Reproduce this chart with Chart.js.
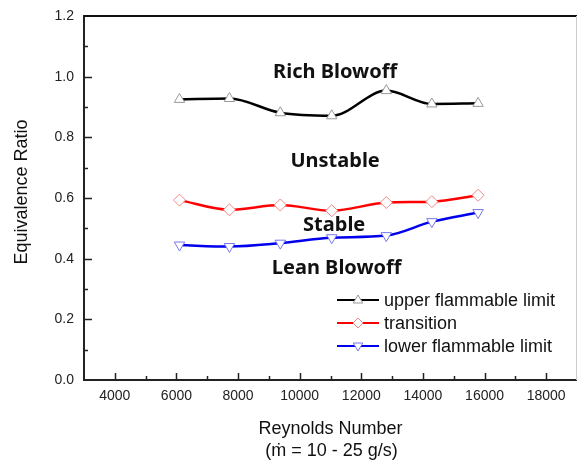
<!DOCTYPE html>
<html>
<head>
<meta charset="utf-8">
<script src="https://cdn.jsdelivr.net/npm/chart.js@4.4.0/dist/chart.umd.min.js"></script>
<style>
  html, body { margin: 0; padding: 0; background: #fff; overflow: hidden; }
  canvas { display: block; }
</style>
</head>
<body>
<canvas id="chart" width="577" height="460"></canvas>
<script>
// Reynolds number of each run
var reynolds = [6100, 7720, 9370, 11040, 12810, 14290, 15790];
// equivalence ratios
var upperLimit = [0.925, 0.928, 0.881, 0.871, 0.954, 0.910, 0.912];
var transition = [0.593, 0.561, 0.577, 0.558, 0.585, 0.588, 0.609];
var lowerLimit = [0.445, 0.440, 0.451, 0.469, 0.476, 0.522, 0.552];

var xTicks = [4000, 6000, 8000, 10000, 12000, 14000, 16000, 18000];
var yTicks = [0.0, 0.2, 0.4, 0.6, 0.8, 1.0, 1.2];

var regionNames = ['Rich Blowoff', 'Unstable', 'Stable', 'Lean Blowoff'];
var regionX = [11150, 11150, 11120, 11200];
var regionY = [1.015, 0.722, 0.511, 0.369];

function pairs(ys) {
    return reynolds.map(function(x, i) { return { x: x, y: ys[i] }; });
}

// triangle / diamond used in the legend
function marker(ctx, style, x, y, r) {
    ctx.beginPath();
    if (style === 'up') {
        ctx.moveTo(x, y - r);
        ctx.lineTo(x + r * 0.95, y + r * 0.6);
        ctx.lineTo(x - r * 0.95, y + r * 0.6);
    } else if (style === 'down') {
        ctx.moveTo(x, y + r);
        ctx.lineTo(x + r * 0.95, y - r * 0.6);
        ctx.lineTo(x - r * 0.95, y - r * 0.6);
    } else {
        ctx.moveTo(x, y - r);
        ctx.lineTo(x + r, y);
        ctx.lineTo(x, y + r);
        ctx.lineTo(x - r, y);
    }
    ctx.closePath();
    ctx.fill();
    ctx.stroke();
}

var decor = {
    id: 'decor',
    afterDraw: function(chart) {
        var ctx = chart.ctx, a = chart.chartArea;
        var xs = chart.scales.x, ys = chart.scales.y;
        ctx.save();

        // frame top / right
        ctx.strokeStyle = '#111';
        ctx.lineWidth = 2;
        ctx.beginPath();
        ctx.moveTo(a.left, a.top);
        ctx.lineTo(a.right, a.top);
        ctx.stroke();
        ctx.strokeStyle = '#ccc';
        ctx.lineWidth = 1;
        ctx.beginPath();
        ctx.moveTo(a.right - 0.5, a.top);
        ctx.lineTo(a.right - 0.5, a.bottom);
        ctx.stroke();

        // inward ticks
        ctx.strokeStyle = '#222';
        ctx.lineWidth = 1.5;
        ctx.beginPath();
        for (var v = 4000; v <= 18000; v += 1000) {
            var px = Math.round(xs.getPixelForValue(v)) + 0.5;
            var len = (v % 2000 === 0) ? 7 : 4;
            ctx.moveTo(px, a.bottom);
            ctx.lineTo(px, a.bottom - len);
        }
        for (var k = 1; k < 12; k++) {
            var py = Math.round(ys.getPixelForValue(k / 10)) + 0.5;
            var l2 = (k % 2 === 0) ? 8 : 4;
            ctx.moveTo(a.left, py);
            ctx.lineTo(a.left + l2, py);
        }
        ctx.stroke();

        // region labels
        ctx.fillStyle = '#111';
        ctx.font = 'bold 20px "Noto Sans", sans-serif';
        ctx.textAlign = 'center';
        ctx.textBaseline = 'middle';
        regionNames.forEach(function(t, i) {
            ctx.fillText(t, xs.getPixelForValue(regionX[i]), ys.getPixelForValue(regionY[i]));
        });

        // axis titles
        ctx.font = '18px "Liberation Sans", Arial, sans-serif';
        var cx = (a.left + a.right) / 2;
        ctx.fillText('Reynolds Number', cx, 429);
        ctx.fillText('(\u1E41 = 10 - 25 g/s)', cx + 1, 451);
        ctx.save();
        ctx.translate(22, 192);
        ctx.rotate(-Math.PI / 2);
        ctx.fillText('Equivalence Ratio', 0, 0);
        ctx.restore();

        // legend
        var rows = [
            { text: 'upper flammable limit', line: '#000', pt: '#999', style: 'up' },
            { text: 'transition', line: '#f00', pt: '#f08888', style: 'diamond' },
            { text: 'lower flammable limit', line: '#0000ee', pt: '#7777ee', style: 'down' }
        ];
        ctx.textAlign = 'left';
        ctx.font = '18px "Liberation Sans", Arial, sans-serif';
        rows.forEach(function(r, i) {
            var y = 300 + i * 23;
            ctx.strokeStyle = r.line;
            ctx.lineWidth = 2;
            ctx.beginPath();
            ctx.moveTo(337, y);
            ctx.lineTo(379, y);
            ctx.stroke();
            ctx.fillStyle = '#fff';
            ctx.strokeStyle = r.pt;
            ctx.lineWidth = 1;
            marker(ctx, r.style, 358, y, 5);
            ctx.fillStyle = '#111';
            ctx.fillText(r.text, 384, y + 1);
        });
        ctx.restore();
    }
};

function series(label, ys, line, pt, style, rot) {
    return {
        label: label,
        data: pairs(ys),
        showLine: true,
        cubicInterpolationMode: 'monotone',
        borderColor: line,
        borderWidth: 2.5,
        pointStyle: style,
        pointRotation: rot,
        pointRadius: 6,
        pointBorderWidth: 1,
        pointBorderColor: pt,
        pointBackgroundColor: '#fff'
    };
}

var config = {
    type: 'scatter',
    data: {
        datasets: [
            series('upper flammable limit', upperLimit, '#000', '#999', 'triangle', 0),
            series('transition', transition, '#f00', '#f08888', 'rectRot', 0),
            series('lower flammable limit', lowerLimit, '#0000ee', '#7777ee', 'triangle', 180)
        ]
    },
    options: {
        responsive: false,
        animation: false,
        layout: { autoPadding: false, padding: { top: 16, right: 0, left: 0, bottom: 0 } },
        plugins: { legend: { display: false }, tooltip: { enabled: false } },
        scales: {
            x: {
                type: 'linear',
                min: 3000,
                max: 19000,
                afterBuildTicks: function(s) { s.ticks = xTicks.map(function(v) { return { value: v }; }); },
                afterFit: function(s) { s.height = 80; s.paddingLeft = 0; s.paddingRight = 0; },
                grid: { drawOnChartArea: false, drawTicks: false },
                border: { color: '#222', width: 2 },
                ticks: {
                    padding: 8,
                    color: '#222',
                    font: { family: '"Liberation Sans", Arial, sans-serif', size: 14 },
                    callback: function(v) { return String(v); }
                }
            },
            y: {
                min: 0,
                max: 1.2,
                afterBuildTicks: function(s) { s.ticks = yTicks.map(function(v) { return { value: v }; }); },
                afterFit: function(s) { s.width = 84; s.paddingTop = 0; s.paddingBottom = 0; },
                grid: { drawOnChartArea: false, drawTicks: false },
                border: { color: '#222', width: 2 },
                ticks: {
                    padding: 10,
                    color: '#222',
                    font: { family: '"Liberation Sans", Arial, sans-serif', size: 14 },
                    callback: function(v) { return Number(v).toFixed(1); }
                }
            }
        }
    },
    plugins: [decor]
};

window.onload = function() {
    var ctx = document.getElementById('chart').getContext('2d');
    window.myChart = new Chart(ctx, config);
};
</script>
</body>
</html>
